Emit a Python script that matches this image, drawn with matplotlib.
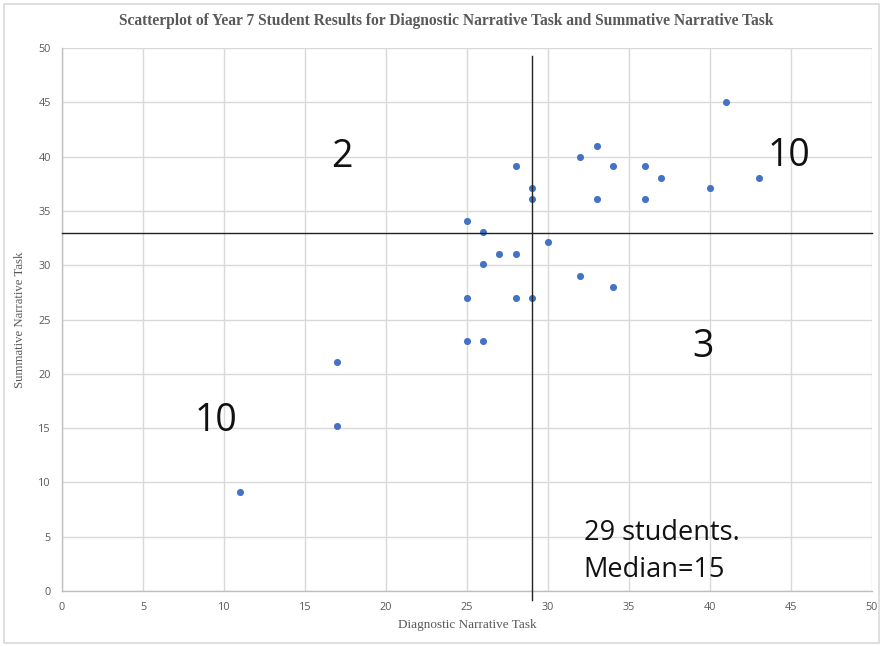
import matplotlib
matplotlib.use('Agg')
import matplotlib.pyplot as plt
from matplotlib.patches import Rectangle

# Diagnostic (x) and summative (y) scores for the 29 students
diagnostic = [11, 17, 17, 25, 26, 25, 25, 26, 26, 27, 28, 28, 29, 28, 29,
              29, 30, 32, 32, 33, 33, 34, 34, 36, 36, 37, 40, 41, 43]
summative = [9.1, 15.2, 21.1, 34.1, 33.1, 27, 23, 23, 30.1, 31, 31, 27, 27, 39.1, 37.1,
             36.1, 32.1, 40, 29, 41, 36.1, 39.1, 28, 39.1, 36.1, 38, 37.1, 45, 38]

median_x = 29
median_y = 33

quad_labels = ['2', '10', '3', '10']
quad_pos = [(17.3, 40.0), (44.9, 40.1), (39.6, 22.5), (9.5, 15.7)]

note_lines = ['29 students.', 'Median=15']

grey = '#595959'
grid_grey = '#d9d9d9'

fig = plt.figure(figsize=(8.83, 6.46), dpi=100)
fig.patches.append(Rectangle((0.005, 0.004), 0.99, 0.99, transform=fig.transFigure,
                             fill=False, edgecolor='#d9d9d9', linewidth=1.2))
ax = fig.add_axes([0.0702, 0.0851, 0.9173, 0.8406])

ax.set_xlim(0, 50)
ax.set_ylim(0, 50)
ax.set_xticks(range(0, 51, 5))
ax.set_yticks(range(0, 51, 5))
ax.grid(True, color=grid_grey, linewidth=1)
ax.set_axisbelow(True)
for side in ['top', 'right']:
    ax.spines[side].set_visible(False)
for side in ['left', 'bottom']:
    ax.spines[side].set_color('#bfbfbf')
    ax.spines[side].set_linewidth(1)
ax.tick_params(length=0, labelsize=7.8, labelcolor=grey, pad=8)
for lab in ax.get_xticklabels() + ax.get_yticklabels():
    lab.set_family('Open Sans')

ax.scatter(diagnostic, summative, s=26, color='#4472c4', zorder=3, linewidths=0)

# median cross lines
ax.plot([median_x, median_x], [-0.8, 49.3], color='#222222', linewidth=1, clip_on=False, zorder=4)
ax.plot([0, 50], [median_y, median_y], color='#222222', linewidth=1, clip_on=False, zorder=4)

for t, (px, py) in zip(quad_labels, quad_pos):
    ax.text(px, py, t, fontsize=27, family='Open Sans', ha='center', va='center',
            color='#111111', zorder=5)

ax.text(32.2, 5.3, note_lines[0], fontsize=19.5, family='Open Sans', ha='left',
        va='center', color='#111111', zorder=5)
ax.text(32.2, 1.9, note_lines[1], fontsize=19.5, family='Open Sans', ha='left',
        va='center', color='#111111', zorder=5)

fig.text(0.505, 0.968, 'Scatterplot of Year 7 Student Results for Diagnostic Narrative Task and Summative Narrative Task',
         ha='center', va='center', fontsize=11.2, fontweight='bold', family='Liberation Serif', color=grey)
ax.set_xlabel('Diagnostic Narrative Task', family='Liberation Serif', fontsize=9.5, color=grey, labelpad=4)
ax.set_ylabel('Summative Narrative Task', family='Liberation Serif', fontsize=9.2, color=grey, labelpad=9)

fig.savefig('out.png', dpi=100)
